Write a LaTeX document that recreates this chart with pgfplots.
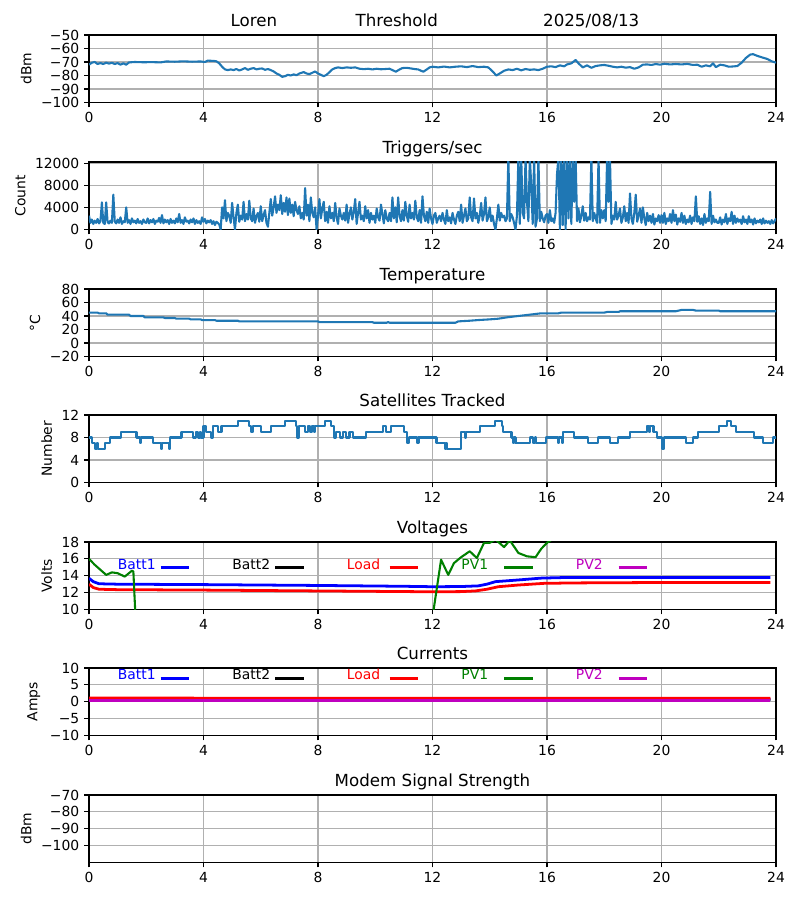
\documentclass[border=0pt]{standalone}
\usepackage{fontspec}
\setmainfont{DejaVu Sans}
\usepackage{pgfplots}
\usepackage{pgfplotstable}
\pgfplotsset{compat=1.18}
\definecolor{C0}{RGB}{31,119,180}
\definecolor{mplgreen}{RGB}{0,128,0}
\definecolor{mplmag}{RGB}{191,0,191}
\definecolor{gridgray}{RGB}{176,176,176}
\pgfplotsset{
  panel/.style={
    width=494.64pt, height=48.6pt, scale only axis,
    anchor=north west,
    xmin=0, xmax=24, xtick={0,4,...,24},
    grid=major, grid style={color=gridgray, line width=0.8pt},
    axis line style={line width=0.8pt},
    tick style={black, line width=0.8pt},
    tick align=outside, major tick length=3.5pt,
    tick pos=left,
    clip mode=individual,
    tick label style={font=\fontsize{10}{12}\selectfont},
    label style={font=\fontsize{10}{12}\selectfont},
    every axis title shift=0pt,
    title style={font=\fontsize{12}{14}\selectfont, anchor=base, at={(0.5,1)}, yshift=6pt},
    /pgf/number format/assume math mode=true,
    scaled y ticks=false,
  },
  every axis plot/.append style={line width=1.5pt, line join=round},
}
% Triggers/sec, one value every 0.05 h (3 min), from 0 h to 24 h
\pgfplotstableread{
y
2500
1200
1800
1000
1600
1200
1900
1100
1500
4900
1200
1000
4900
1300
1100
1600
1200
6300
1400
1100
1800
1200
2200
1000
1500
1300
4000
1200
1700
1000
2000
1300
1600
1100
1900
1200
1500
1000
1800
1300
1200
2000
1100
1700
1300
1900
1000
1600
1400
2100
1200
2600
1100
1800
1300
1700
1000
1900
1200
1600
1100
2000
1300
2800
1200
1700
1000
2200
1400
1600
1100
1800
1300
2000
1000
1700
1200
1500
1000
2200
1400
1900
1100
1600
1300
1700
1000
1500
800
1400
1200
900
0
4000
2000
5300
1500
3000
2500
1200
4800
2200
0
3000
4500
1400
2500
1800
5000
1500
2800
1800
5200
2000
1500
3800
1200
2400
3000
1400
4200
1500
2600
3500
1200
500
3000
5500
2500
4000
6000
3000
4500
3500
6200
2800
4800
3200
5800
2600
5600
3000
4500
2400
5000
3500
2800
4200
2000
3000
1800
7500
2500
4500
1500
5800
3000
2200
4000
0
2500
5500
2000
3800
5000
1500
3200
1200
4200
2000
3000
1500
4800
2200
1000
3800
2500
1800
3000
1600
4500
1200
2800
4000
1800
3200
5500
1000
3000
5000
1800
2500
1500
4200
2000
3500
1200
3000
1800
2500
1200
3800
2200
1600
4500
2800
1100
3500
2000
1500
3000
1500
5800
2000
4000
1300
5800
2500
1500
3500
1600
5000
2500
1400
4500
2000
3000
1800
5200
2200
1500
3500
1200
6000
2500
1500
3200
1200
3800
2000
1000
2500
3000
1200
2000
2500
1500
3000
1800
1000
3500
1500
2200
1100
3000
1800
1000
2500
3200
1500
4500
1200
2500
3800
1500
2000
5800
2200
1500
5600
2000
3000
1200
2500
4800
1600
2800
5800
1500
2200
4000
1500
2500
1000
0
2000
4500
1600
3000
2200
2500
1500
2000
13000
1500
2800
2200
1200
0
2500
13000
1000
13000
3000
2000
13000
5000
1500
13000
8000
1000
13000
500
2000
13000
1500
3200
2000
1300
2500
2800
1200
3500
1500
2000
1200
3000
10000
13000
0
13000
800
13000
0
13000
2000
13000
1000
13000
5000
13000
1500
3800
1300
2500
4200
1600
3000
1500
2200
1800
13000
1500
3000
2000
1200
13000
1200
3500
2000
3500
1500
13000
5000
13000
1000
2500
1800
5000
1800
2500
3800
1200
2200
4200
1500
3000
1200
6500
2000
1000
3000
6300
1400
2500
3800
1200
4000
2000
800
3000
1500
2500
1200
2800
900
2000
1500
2600
1200
2600
1200
3000
1000
2000
1500
2800
1200
3500
1500
2700
900
2000
1400
3000
1200
2500
1000
1800
1300
2500
1000
2200
1500
6000
1400
2400
1000
2000
800
2800
1200
2000
1500
6800
1000
2500
1300
1800
1200
1200
2200
900
1800
1300
2800
1000
2000
1500
3200
1000
2500
1200
2000
1400
1800
1000
2400
1300
1800
1000
2400
1300
1800
900
2000
1100
1600
1300
1800
1000
2000
1100
1600
1200
1500
1000
1700
1100
1500
2000
}\triggers
\begin{document}
\begin{tikzpicture}
\useasboundingbox (0,0) rectangle (576pt,648pt);

% ---------------- RSSI ----------------
\begin{axis}[panel, at={(64.08pt,622.8pt)},
  ymin=-100, ymax=-50, ytick={-100,-90,-80,-70,-60,-50},
  yticklabels={−100,−90,−80,−70,−60,−50}, ylabel={dBm}]
\addplot[C0] coordinates {
(0.00,-72)(0.10,-70.5)(0.20,-70)(0.30,-71.5)(0.40,-70.8)(0.50,-71.5)(0.60,-70.5)(0.70,-71.2)(0.80,-70.6)(0.90,-71.5)
(1.00,-70.8)(1.10,-72)(1.20,-71)(1.30,-72)(1.40,-70.3)(1.60,-70)(1.90,-70.2)(2.20,-70.1)(2.50,-70.3)(2.70,-69.6)
(3.00,-69.8)(3.30,-69.5)(3.60,-69.8)(3.90,-69.6)(4.05,-70)(4.15,-69)(4.35,-69.2)(4.45,-69.5)(4.55,-71)(4.65,-73.5)
(4.75,-75.5)(4.85,-76)(4.95,-75.5)(5.05,-76)(5.15,-75.2)(5.25,-76.3)(5.35,-75.5)(5.45,-74.5)(5.55,-75.8)(5.65,-75)
(5.75,-74.5)(5.85,-75.5)(5.95,-75)(6.05,-74.8)(6.15,-75.8)(6.25,-75.2)(6.35,-76)(6.45,-77)(6.55,-78.5)(6.65,-79.5)
(6.75,-81)(6.85,-80.5)(6.95,-79.5)(7.05,-80)(7.15,-79.2)(7.25,-79.8)(7.35,-78.5)(7.5,-77.5)(7.6,-78.5)(7.7,-79)
(7.8,-78)(7.9,-77)(8.0,-78.5)(8.1,-79.5)(8.2,-80.5)(8.3,-79.5)(8.4,-77.5)(8.5,-75.5)(8.6,-74.5)(8.7,-74)
(8.85,-74.5)(9.0,-74)(9.15,-74.3)(9.3,-74)(9.45,-75)(9.6,-75.3)(9.75,-75)(9.9,-75.5)(10.05,-75)(10.2,-75.4)
(10.35,-75.2)(10.5,-75)(10.6,-76)(10.72,-77.2)(10.85,-75.5)(10.95,-74.5)(11.1,-74.3)(11.25,-74.8)(11.4,-75.3)(11.5,-75.5)
(11.6,-76.5)(11.68,-77.2)(11.8,-75.5)(11.9,-74)(12.0,-73.5)(12.2,-74)(12.4,-73.4)(12.6,-74)(12.8,-73.5)(13.0,-73.2)
(13.2,-73.8)(13.4,-73)(13.6,-73.8)(13.8,-73.5)(13.95,-74)(14.1,-77)(14.23,-80)(14.35,-78.5)(14.5,-76.5)(14.65,-75.5)
(14.8,-76)(14.95,-75)(15.1,-76.2)(15.25,-75.2)(15.4,-75.8)(15.55,-75.5)(15.7,-76)(15.85,-75)(16.0,-73.5)(16.15,-73.2)
(16.3,-73.8)(16.45,-72.5)(16.6,-73.2)(16.7,-71.8)(16.85,-71)(17.0,-68.5)(17.1,-71)(17.25,-74)(17.4,-72.5)(17.55,-74.3)
(17.7,-73)(17.85,-72.5)(18.0,-72.2)(18.15,-72.8)(18.3,-73.5)(18.45,-74)(18.6,-73.5)(18.75,-74.2)(18.9,-73.8)(19.05,-75)
(19.2,-74)(19.35,-72)(19.5,-71.8)(19.65,-72.2)(19.8,-71.5)(19.95,-72)(20.1,-71.3)(20.3,-71.8)(20.5,-71.5)(20.7,-71.8)
(20.9,-71.4)(21.1,-72.2)(21.25,-72)(21.4,-73.5)(21.55,-72.5)(21.7,-73.2)(21.8,-71)(21.9,-73.8)(22.05,-72)(22.2,-72.5)
(22.35,-73.5)(22.5,-73.3)(22.65,-73)(22.8,-70.5)(22.95,-67)(23.1,-64.5)(23.2,-64.2)(23.35,-65.5)(23.5,-66.5)(23.7,-67.8)
(23.85,-69.5)(24.0,-70.5)};
\node[anchor=base, font=\fontsize{12}{14}\selectfont] at (rel axis cs:0.240,1) [yshift=6pt] {Loren};
\node[anchor=base, font=\fontsize{12}{14}\selectfont] at (rel axis cs:0.448,1) [yshift=6pt] {Threshold};
\node[anchor=base, font=\fontsize{12}{14}\selectfont] at (rel axis cs:0.731,1) [yshift=6pt] {2025/08/13};
\end{axis}

% ---------------- Triggers ----------------
\begin{axis}[panel, at={(64.08pt,531.36pt)}, title={Triggers/sec},
  ymin=0, ymax=12200, ytick={0,4000,8000,12000},
  yticklabels={0,4000,8000,12000}, ylabel={Count}]
\addplot[C0, line width=1.5pt] table[x expr=\coordindex*0.05, y=y] {\triggers};
\end{axis}

% ---------------- Temperature ----------------
\begin{axis}[panel, at={(64.08pt,439.92pt)}, title={Temperature},
  ymin=-20, ymax=80, ytick={-20,0,20,40,60,80},
  yticklabels={−20,0,20,40,60,80}, ylabel={°C}]
\addplot[C0] coordinates {
(0,45)(0.3,45)(0.35,44)(0.6,44)(0.65,42)(1.4,42)(1.45,40)(1.9,40)(1.95,38)(2.6,38)(2.65,37)(3.0,37)(3.05,36)
(3.5,36)(3.55,35)(3.9,35)(3.95,34)(4.4,34)(4.45,33)(5.2,33)(5.25,32)(8.0,32)(8.05,31)(9.9,31)(9.95,30)(10.4,30)
(10.45,31)(10.5,30)(12.8,30)(12.9,32)(13.3,33)(13.6,34)(14.0,35)(14.3,36)(14.6,38)(15.0,40)(15.4,42)(15.8,44)
(16.4,44)(16.5,45)(18.0,45)(18.1,46)(18.5,46)(18.55,47)(20.5,47)(20.6,48)(20.7,49)(21.1,49)(21.2,48)(22.0,48)
(22.05,47)(24,47)};
\end{axis}

% ---------------- Satellites ----------------
\begin{axis}[panel, at={(64.08pt,349.2pt)}, title={Satellites Tracked},
  ymin=0, ymax=12, ytick={0,4,8,12}, ylabel={Number}]
\addplot[C0, const plot] coordinates {
(0,8)(0.12,7)(0.2,6)(0.27,7)(0.33,6)(0.56,7)(0.73,8)(1.12,9)(1.66,8)(1.78,7)(1.82,8)(2.24,7)(2.5,6)(2.54,7)
(2.78,6)(2.83,8)(3.23,9)(3.64,8)(3.75,9)(3.8,8)(3.88,9)(3.92,8)(4.0,10)(4.1,9)(4.27,8)(4.32,10)(4.5,9)(4.63,10)
(5.2,11)(5.6,10)(5.66,9)(5.72,10)(6.02,9)(6.37,10)(6.84,11)(7.24,10)(7.28,8)(7.34,10)(7.53,9)(7.65,10)(7.72,9)
(7.78,10)(7.85,9)(7.9,10)(8.23,11)(8.47,10)(8.56,8)(8.62,9)(8.76,8)(8.87,9)(8.98,8)(9.1,9)(9.22,8)(9.69,9)
(10.27,10)(10.38,9)(10.56,10)(11.02,9)(11.12,7)(11.17,8)(11.46,7)(11.51,8)(12.14,7)(12.44,6)(12.48,7)(12.52,6)
(13.0,9)(13.12,8)(13.17,9)(13.65,10)(14.17,11)(14.42,10)(14.47,9)(14.76,8)(14.8,7)(14.84,8)(14.9,7)(15.4,8)
(15.5,7)(15.57,8)(15.62,7)(15.95,8)(16.37,7)(16.42,8)(16.53,7)(16.57,9)(16.95,8)(17.43,7)(17.78,8)(18.19,7)
(18.48,8)(18.9,9)(19.49,10)(19.55,9)(19.6,10)(19.72,9)(19.85,8)(20.02,6)(20.08,8)(20.86,7)(21.09,8)(21.27,9)
(22.02,10)(22.3,11)(22.42,10)(22.6,9)(23.24,8)(23.53,7)(23.88,8)(24,8)};
\end{axis}

% ---------------- Voltages ----------------
\begin{axis}[panel, at={(64.08pt,257.76pt)}, title={Voltages},
  ymin=10, ymax=18, ytick={10,12,14,16,18}, ylabel={Volts}]
\addplot[blue, line width=2pt] coordinates {
(0,13.7)(0.15,13.3)(0.35,13.05)(1,13.0)(4,12.95)(8,12.85)(11,12.75)(12,12.7)(13,12.72)(13.6,12.8)(13.9,13.0)
(14.2,13.3)(15,13.5)(15.8,13.72)(16.5,13.78)(20,13.8)(23.8,13.8)};
\addplot[red, line width=2pt] coordinates {
(0,13.0)(0.15,12.6)(0.35,12.4)(1,12.35)(4,12.3)(8,12.2)(10,12.15)(12,12.1)(13,12.12)(13.5,12.2)(13.9,12.4)
(14.3,12.7)(15,12.9)(15.9,13.1)(17,13.15)(20,13.2)(23.8,13.2)};
\addplot[mplgreen] coordinates {
(0,16)(0.2,15.3)(0.6,14.1)(0.8,14.4)(1.0,14.3)(1.25,13.9)(1.5,14.6)(1.55,14.5)(1.75,0)(11.6,0)(12.3,15.9)
(12.55,14.1)(12.75,15.5)(13.0,16.2)(13.3,16.9)(13.55,16.1)(13.8,17.9)(14.0,17.9)(14.2,18.3)(14.5,17.4)(14.7,18.2)
(15.0,16.7)(15.3,16.3)(15.6,16.2)(15.8,17.2)(16.0,17.9)(16.3,18.6)(17,19.5)(20,20)(23.8,20)};
\node[anchor=base west, inner sep=0pt, text=blue, font=\fontsize{10}{12}\selectfont] at (axis cs:1,14.75) {Batt1};
\node[anchor=base west, inner sep=0pt, text=black, font=\fontsize{10}{12}\selectfont] at (axis cs:5,14.75) {Batt2};
\node[anchor=base west, inner sep=0pt, text=red, font=\fontsize{10}{12}\selectfont] at (axis cs:9,14.75) {Load};
\node[anchor=base west, inner sep=0pt, text=mplgreen, font=\fontsize{10}{12}\selectfont] at (axis cs:13,14.75) {PV1};
\node[anchor=base west, inner sep=0pt, text=mplmag, font=\fontsize{10}{12}\selectfont] at (axis cs:17,14.75) {PV2};
\addplot[blue, line width=2pt] coordinates {(2.5,15)(3.5,15)};
\addplot[black, line width=2pt] coordinates {(6.5,15)(7.5,15)};
\addplot[red, line width=2pt] coordinates {(10.5,15)(11.5,15)};
\addplot[mplgreen, line width=2pt] coordinates {(14.5,15)(15.5,15)};
\addplot[mplmag, line width=2pt] coordinates {(18.5,15)(19.5,15)};
\end{axis}

% ---------------- Currents ----------------
\begin{axis}[panel, at={(64.08pt,167.04pt)}, title={Currents},
  ymin=-10, ymax=10, ytick={-10,-5,0,5,10},
  yticklabels={−10,−5,0,5,10}, ylabel={Amps}]
\addplot[blue, line width=2pt] coordinates {(0,0.75)(6,0.72)(12,0.7)(18,0.72)(23.8,0.72)};
\addplot[black, line width=2pt] coordinates {(0,0.65)(6,0.62)(12,0.6)(18,0.62)(23.8,0.62)};
\addplot[red, line width=2pt] coordinates {(0,1.1)(6,1.05)(12,1.0)(18,1.05)(23.8,1.05)};
\addplot[mplgreen, line width=2pt] coordinates {(0,0.45)(6,0.45)(12,0.45)(18,0.45)(23.8,0.45)};
\addplot[mplmag, line width=2pt] coordinates {(0,0.3)(6,0.3)(12,0.3)(18,0.3)(23.8,0.3)};
\node[anchor=base west, inner sep=0pt, text=blue, font=\fontsize{10}{12}\selectfont] at (axis cs:1,6.6) {Batt1};
\node[anchor=base west, inner sep=0pt, text=black, font=\fontsize{10}{12}\selectfont] at (axis cs:5,6.6) {Batt2};
\node[anchor=base west, inner sep=0pt, text=red, font=\fontsize{10}{12}\selectfont] at (axis cs:9,6.6) {Load};
\node[anchor=base west, inner sep=0pt, text=mplgreen, font=\fontsize{10}{12}\selectfont] at (axis cs:13,6.6) {PV1};
\node[anchor=base west, inner sep=0pt, text=mplmag, font=\fontsize{10}{12}\selectfont] at (axis cs:17,6.6) {PV2};
\addplot[blue, line width=2pt] coordinates {(2.5,7)(3.5,7)};
\addplot[black, line width=2pt] coordinates {(6.5,7)(7.5,7)};
\addplot[red, line width=2pt] coordinates {(10.5,7)(11.5,7)};
\addplot[mplgreen, line width=2pt] coordinates {(14.5,7)(15.5,7)};
\addplot[mplmag, line width=2pt] coordinates {(18.5,7)(19.5,7)};
\end{axis}

% ---------------- Modem ----------------
\begin{axis}[panel, at={(64.08pt,75.6pt)}, title={Modem Signal Strength},
  ymin=-110, ymax=-70, ytick={-100,-90,-80,-70},
  yticklabels={−100,−90,−80,−70}, ylabel={dBm}]
\addplot[draw=none] coordinates {(0,-120)};
\end{axis}
\end{tikzpicture}
\end{document}
